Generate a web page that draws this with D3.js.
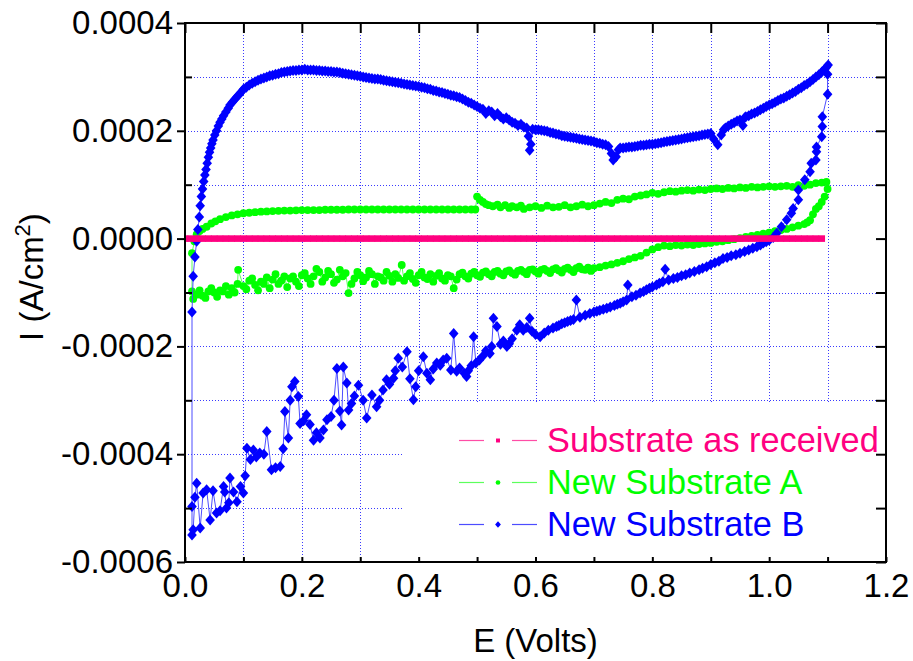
<!DOCTYPE html>
<html>
<head>
<meta charset="utf-8">
<script src="https://cdn.jsdelivr.net/npm/d3@7/dist/d3.min.js"></script>
<style>
  body { margin: 0; background: #fff; }
  svg { display: block; }
  text { font-family: "Liberation Sans", Arial, sans-serif; }
</style>
</head>
<body>
<svg id="chart" width="913" height="661"></svg>
<script>
// ---- data: potential E (V) and current density I (µA/cm²) ----
const seriesNames = ["Substrate as received", "New Substrate A", "New Substrate B"];
const seriesColors = ["#ff0080", "#00ff00", "#0000ff"];
const lineColors = ["#ff4da6", "#5cff5c", "#4d4dff"];

const xTickValues = [0, 0.2, 0.4, 0.6, 0.8, 1.0, 1.2];
const xMinorValues = [0.1, 0.3, 0.5, 0.7, 0.9, 1.1];
const yTickValues = [-0.0006, -0.0004, -0.0002, 0, 0.0002, 0.0004];
const yMinorValues = [-0.0005, -0.0003, -0.0001, 0.0001, 0.0003];

// Substrate as received: flat at zero over the sweep
const receivedE = [0.00,0.01,0.02,0.03,0.04,0.05,0.06,0.07,0.08,0.09,0.10,0.11,0.12,0.13,0.14,0.15,0.16,0.17,0.18,0.19,
  0.20,0.21,0.22,0.23,0.24,0.25,0.26,0.27,0.28,0.29,0.30,0.31,0.32,0.33,0.34,0.35,0.36,0.37,0.38,0.39,
  0.40,0.41,0.42,0.43,0.44,0.45,0.46,0.47,0.48,0.49,0.50,0.51,0.52,0.53,0.54,0.55,0.56,0.57,0.58,0.59,
  0.60,0.61,0.62,0.63,0.64,0.65,0.66,0.67,0.68,0.69,0.70,0.71,0.72,0.73,0.74,0.75,0.76,0.77,0.78,0.79,
  0.80,0.81,0.82,0.83,0.84,0.85,0.86,0.87,0.88,0.89,0.90,0.91,0.92,0.93,0.94,0.95,0.96,0.97,0.98,0.99,
  1.00,1.01,1.02,1.03,1.04,1.05,1.06,1.07,1.08,1.09];
const receivedI = [0,0,0,0,0,0,0,0,0,0,0,0,0,0,0,0,0,0,0,0,
  0,0,0,0,0,0,0,0,0,0,0,0,0,0,0,0,0,0,0,0,
  0,0,0,0,0,0,0,0,0,0,0,0,0,0,0,0,0,0,0,0,
  0,0,0,0,0,0,0,0,0,0,0,0,0,0,0,0,0,0,0,0,
  0,0,0,0,0,0,0,0,0,0,0,0,0,0,0,0,0,0,0,0,
  0,0,0,0,0,0,0,0,0,0];

// New Substrate A: forward sweep then return sweep, [E, I]
const substrateA = [
  [0.012,-98],[0.012,-27],[0.016,-5],[0.02,8],[0.025,14],[0.03,18],[0.037,22],[0.045,28],[0.052,32],[0.06,36],
  [0.07,40],[0.08,43],[0.09,45],[0.10,47],[0.11,48],[0.12,49],[0.13,50],[0.14,50.5],[0.15,51],[0.16,51.5],
  [0.17,52],[0.18,52],[0.19,52.5],[0.20,53],[0.21,53],[0.22,53],[0.23,53],[0.24,53.5],[0.25,53.5],[0.26,53.5],
  [0.27,53.5],[0.28,54],[0.29,54],[0.30,54],[0.31,54],[0.32,54],[0.33,54],[0.34,54],[0.35,54],[0.36,54],
  [0.37,54],[0.38,54],[0.39,54],[0.40,54],[0.41,54],[0.42,54],[0.43,54],[0.44,54],[0.45,54],[0.46,54],
  [0.47,54],[0.48,54],[0.49,54],[0.497,54],
  [0.50,78],[0.505,72],[0.51,68],[0.515,64],[0.52,62],[0.527,60],[0.535,63],[0.54,58],[0.548,62],[0.555,57],
  [0.56,60],[0.568,58],[0.575,61],[0.58,55],[0.59,58],[0.60,60],[0.61,57],[0.62,61],[0.63,58],[0.64,59],
  [0.65,62],[0.66,58],[0.67,60],[0.68,63],[0.69,60],[0.70,62],[0.71,65],[0.72,68],[0.73,66],[0.74,72],
  [0.75,74],[0.76,73],[0.77,78],[0.78,80],[0.79,82],[0.80,85],[0.81,83],[0.82,86],[0.83,88],[0.84,87],
  [0.85,89],[0.86,90],[0.87,89],[0.88,91],[0.89,90],[0.90,92],[0.91,93],[0.92,92],[0.93,94],[0.94,93],
  [0.95,95],[0.96,94],[0.97,96],[0.98,95],[0.99,96],[1.00,97],[1.01,96],[1.02,97],[1.03,98],[1.04,96],
  [1.05,99],[1.06,98],[1.07,100],[1.08,103],[1.09,104],[1.098,105],
  [1.10,92],[1.095,78],[1.09,68],[1.085,60],[1.08,55],[1.075,45],[1.07,34],[1.065,30],[1.06,27],[1.05,24],
  [1.04,21],[1.03,18],[1.02,16],[1.01,14],[1.00,11],[0.99,9],[0.98,7],[0.97,5],[0.96,3],[0.95,1],
  [0.94,-1],[0.93,-3],[0.92,-5],[0.91,-6],[0.90,-8],[0.89,-9],[0.88,-10],[0.87,-12],[0.86,-11],[0.85,-13],
  [0.84,-12],[0.83,-14],[0.82,-13],[0.81,-16],[0.80,-20],[0.79,-26],[0.78,-32],[0.77,-35],[0.76,-38],[0.75,-42],
  [0.74,-45],[0.73,-48],[0.72,-50],[0.71,-53],
  [0.700,-55],[0.695,-60],[0.690,-54],[0.685,-58],[0.680,-57],[0.675,-52],[0.670,-55],[0.665,-62],[0.660,-58],[0.655,-54],
  [0.650,-56],[0.645,-63],[0.640,-59],[0.635,-55],[0.630,-57],[0.625,-64],[0.620,-60],[0.615,-56],[0.610,-58],[0.605,-65],
  [0.600,-61],[0.595,-57],[0.590,-58],[0.585,-66],[0.580,-62],[0.575,-58],[0.570,-60],[0.565,-67],[0.560,-64],[0.555,-59],
  [0.550,-61],[0.545,-68],[0.540,-65],[0.535,-60],[0.530,-62],[0.525,-70],[0.520,-66],[0.515,-61],[0.510,-63],[0.505,-71],
  [0.500,-68],[0.495,-62],[0.490,-65],[0.485,-74],[0.480,-70],[0.475,-63],[0.470,-66],[0.465,-76],[0.460,-92],[0.455,-70],
  [0.450,-68],[0.445,-78],[0.440,-74],[0.435,-64],[0.430,-69],[0.425,-80],[0.420,-66],[0.415,-75],[0.410,-72],[0.405,-62],
  [0.400,-68],[0.395,-82],[0.390,-75],[0.385,-64],[0.380,-70],[0.375,-78],[0.371,-49],[0.365,-73],[0.360,-66],[0.355,-80],
  [0.350,-69],[0.345,-62],[0.340,-78],[0.335,-72],[0.330,-70],[0.325,-84],[0.320,-66],[0.315,-60],[0.310,-72],[0.305,-79],
  [0.300,-68],[0.295,-62],[0.290,-74],[0.285,-84],[0.280,-101],[0.275,-64],[0.270,-70],[0.265,-58],[0.260,-76],[0.255,-82],
  [0.250,-66],[0.245,-60],[0.240,-72],[0.235,-80],[0.230,-62],[0.225,-56],[0.220,-70],[0.215,-84],[0.210,-74],[0.205,-64],
  [0.200,-68],[0.195,-88],[0.190,-80],[0.185,-70],[0.180,-74],[0.175,-90],[0.170,-70],[0.165,-78],[0.160,-84],[0.155,-66],
  [0.150,-76],[0.145,-92],[0.140,-72],[0.135,-84],[0.130,-80],[0.125,-96],[0.120,-86],[0.115,-74],[0.110,-78],[0.105,-94],
  [0.100,-88],[0.091,-58],[0.090,-84],[0.085,-100],[0.080,-92],[0.075,-104],[0.070,-88],[0.065,-98],[0.060,-96],[0.055,-108],
  [0.050,-100],[0.045,-92],[0.040,-98],[0.035,-110],[0.030,-106],[0.025,-96],[0.020,-104],[0.014,-112]
];

// New Substrate B: forward sweep then return sweep, [E, I]
const substrateB = [
  [0.012,-550],[0.012,-497],[0.012,-136],[0.014,-70],[0.017,-34],[0.02,-5],[0.022,17],[0.0245,40],[0.026,61],[0.028,78],
  [0.03,92],[0.032,106],[0.034,118],[0.036,128],[0.038,140],[0.04,151],[0.042,160],[0.044,168],[0.046,176],[0.048,183],
  [0.051,192],[0.054,200],[0.057,209],[0.06,216],[0.063,222],[0.066,228],[0.07,235],[0.074,242],[0.077,248],[0.081,253],
  [0.085,258],[0.089,263],[0.093,268],[0.097,273],
  [0.100,277],[0.105,281],[0.110,285],[0.115,288],[0.120,291],[0.125,294],[0.130,296],[0.135,298],[0.140,300],[0.145,302],
  [0.150,303],[0.155,305],[0.160,306],[0.165,308],[0.170,309],[0.175,310],[0.180,311],[0.185,312],[0.190,312],[0.195,313],
  [0.200,313],[0.205,314],[0.210,313],[0.215,313],[0.220,313],[0.225,312],[0.230,312],[0.235,311],[0.240,311],[0.245,310],
  [0.250,310],[0.255,309],[0.260,309],[0.265,308],[0.270,307],[0.275,306],[0.280,305],[0.285,304],[0.290,303],[0.295,302],
  [0.300,301],[0.305,300],[0.310,299],[0.315,298],[0.320,297],[0.325,296],[0.330,296],[0.335,295],[0.340,294],[0.345,293],
  [0.350,292],[0.355,291],[0.360,290],[0.365,289],[0.370,288],[0.375,287],[0.380,286],[0.385,285],[0.390,284],[0.395,283],
  [0.400,282],[0.405,281],[0.410,280],[0.415,278],[0.420,277],[0.425,275],[0.430,274],[0.435,272],[0.440,271],[0.445,269],
  [0.450,268],[0.455,266],[0.460,265],[0.465,263],[0.470,262],[0.475,259],[0.480,256],[0.485,253],[0.490,251],[0.495,248],
  [0.500,245],[0.505,242],[0.510,240],[0.515,232],[0.520,237],[0.525,235],[0.530,228],[0.535,232],[0.540,226],[0.545,222],
  [0.550,224],[0.555,220],[0.560,216],[0.565,214],[0.570,210],[0.575,212],[0.580,207],[0.585,205],[0.588,190],[0.590,164],
  [0.592,175],[0.595,203],[0.600,202],[0.605,202],[0.610,201],[0.615,200],[0.620,199],[0.625,197],[0.630,196],[0.635,194],
  [0.640,193],[0.645,191],[0.650,190],[0.655,189],[0.660,188],[0.665,187],[0.670,186],[0.675,185],[0.680,184],[0.685,183],
  [0.690,182],[0.695,181],[0.700,180],[0.705,178],[0.710,177],[0.715,175],[0.720,174],[0.725,171],[0.730,158],[0.733,146],
  [0.738,152],[0.742,165],[0.745,168],[0.750,168],[0.755,169],[0.760,170],[0.765,170],[0.770,171],[0.775,172],[0.780,173],
  [0.785,173],[0.790,174],[0.795,175],[0.800,175],[0.805,176],[0.810,177],[0.815,178],[0.820,179],[0.825,180],[0.830,181],
  [0.835,182],[0.840,183],[0.845,184],[0.850,185],[0.855,186],[0.860,187],[0.865,188],[0.870,189],[0.875,190],[0.880,191],
  [0.885,192],[0.890,193],[0.895,194],[0.900,195],[0.905,185],[0.912,174],[0.918,192],[0.922,202],[0.925,205],[0.930,209],
  [0.935,212],[0.940,215],[0.945,218],[0.950,220],[0.955,210],[0.958,224],[0.960,226],[0.965,228],[0.970,231],[0.975,233],
  [0.980,236],[0.985,239],[0.990,242],[0.995,245],[1.000,248],[1.005,250],[1.010,253],[1.015,256],[1.020,259],[1.025,261],
  [1.030,264],[1.035,267],[1.040,270],[1.045,273],[1.050,277],[1.055,280],[1.060,284],[1.065,287],[1.070,291],[1.075,295],
  [1.080,300],[1.085,304],[1.090,309],[1.095,314],[1.098,318],[1.101,322],
  [1.10,305],[1.10,268],[1.091,226],[1.091,208],[1.09,189],[1.081,170],[1.081,161],[1.08,146],[1.072,140],[1.07,124],
  [1.061,109],[1.05,90],[1.05,72],[1.041,56],[1.038,47],[1.03,35],[1.021,22],[1.013,10],[1.007,2],[1.0,-3],
  [0.995,-6],[0.99,-8],[0.985,-12],[0.979,-15],[0.972,-18],[0.965,-21],[0.958,-24],[0.95,-27],[0.943,-30],[0.935,-32],
  [0.928,-35],[0.921,-37],[0.914,-42],[0.907,-45],[0.90,-48],[0.893,-52],[0.886,-55],[0.88,-58],[0.872,-61],[0.864,-64],
  [0.857,-67],[0.85,-69],[0.843,-72],[0.836,-74],[0.828,-77],[0.822,-57],[0.818,-80],[0.812,-83],[0.807,-86],[0.80,-90],
  [0.795,-92],[0.79,-95],[0.785,-98],[0.779,-101],[0.772,-105],[0.765,-108],[0.758,-86],[0.756,-114],[0.75,-117],[0.745,-120],
  [0.74,-122],[0.735,-124],[0.728,-127],[0.722,-129],[0.716,-131],[0.71,-133],[0.705,-135],[0.70,-136],[0.693,-139],[0.685,-142],
  [0.676,-146],[0.67,-114],[0.665,-150],[0.66,-152],[0.655,-154],[0.65,-156],[0.645,-158],[0.64,-161],[0.636,-163],[0.63,-166],
  [0.622,-170],[0.615,-175],[0.608,-182],[0.60,-178],[0.594,-172],[0.59,-148],[0.585,-165],[0.579,-170],[0.573,-160],[0.568,-170],
  [0.56,-186],[0.555,-195],[0.551,-200],[0.545,-190],[0.54,-196],[0.534,-163],[0.528,-148],[0.525,-200],[0.522,-213],[0.515,-208],
  [0.51,-218],[0.504,-225],[0.498,-231],[0.494,-182],[0.49,-236],[0.485,-245],[0.482,-256],[0.478,-250],[0.47,-240],[0.465,-246],
  [0.46,-176],[0.455,-244],[0.448,-222],[0.442,-225],[0.437,-235],[0.431,-231],[0.425,-242],[0.42,-262],[0.414,-250],[0.408,-219],
  [0.40,-245],[0.395,-275],[0.391,-299],[0.385,-260],[0.38,-210],[0.372,-238],[0.365,-222],[0.36,-245],[0.357,-259],[0.35,-270],
  [0.345,-262],[0.339,-281],[0.333,-300],[0.328,-312],[0.32,-290],[0.311,-333],[0.305,-300],[0.297,-272],[0.29,-292],[0.285,-306],
  [0.28,-318],[0.277,-268],[0.271,-238],[0.268,-346],[0.265,-320],[0.26,-241],[0.255,-300],[0.25,-330],[0.243,-336],[0.237,-355],
  [0.231,-370],[0.225,-360],[0.22,-374],[0.214,-345],[0.208,-327],[0.203,-338],[0.197,-343],[0.194,-293],[0.188,-265],[0.183,-275],
  [0.18,-300],[0.177,-370],[0.171,-321],[0.168,-390],[0.163,-423],[0.155,-425],[0.148,-429],[0.14,-358],[0.135,-400],[0.128,-398],
  [0.122,-405],[0.117,-392],[0.112,-410],[0.106,-389],[0.103,-440],[0.10,-472],[0.095,-460],[0.089,-488],[0.083,-470],[0.077,-444],
  [0.075,-490],[0.071,-500],[0.068,-470],[0.066,-460],[0.06,-505],[0.054,-509],[0.048,-468],[0.043,-522],[0.037,-466],[0.031,-472],
  [0.026,-537],[0.02,-454],[0.017,-480],[0.014,-540]
];

// ---- layout ----
const svg = d3.select("#chart");
const plot = { left: 185, right: 886, top: 23, bottom: 562 };
const x = d3.scaleLinear().domain([0, 1.2]).range([plot.left, plot.right]);
const y = d3.scaleLinear().domain([-0.0006, 0.0004]).range([plot.bottom, plot.top]);
const uA = v => v * 1e-6;

svg.append("defs").append("clipPath").attr("id", "plotClip")
  .append("rect").attr("x", plot.left).attr("y", plot.top)
  .attr("width", plot.right - plot.left).attr("height", plot.bottom - plot.top);

// dotted grid
const grid = svg.append("g").attr("stroke", "#3a3aff").attr("stroke-width", 1)
  .attr("stroke-dasharray", "1,2").attr("fill", "none");
const gridX = xMinorValues.concat([0.2, 0.4, 0.6, 0.8, 1.0]).sort((a, b) => a - b);
const gridY = yMinorValues.concat([-0.0004, -0.0002, 0.0002]).sort((a, b) => a - b);
grid.selectAll("line.gx").data(gridX).join("line").attr("class", "gx")
  .attr("x1", d => Math.round(x(d)) + 0.5).attr("x2", d => Math.round(x(d)) + 0.5)
  .attr("y1", plot.top).attr("y2", plot.bottom);
grid.selectAll("line.gy").data(gridY).join("line").attr("class", "gy")
  .attr("y1", d => Math.round(y(d)) + 0.5).attr("y2", d => Math.round(y(d)) + 0.5)
  .attr("x1", plot.left).attr("x2", plot.right);

// legend panel hides the grid underneath it
const legendBox = { x: 403, y: 402, w: plot.right - 403, h: plot.bottom - 402 };
svg.append("rect").attr("x", legendBox.x).attr("y", legendBox.y)
  .attr("width", legendBox.w).attr("height", legendBox.h).attr("fill", "#fff");

// marker shapes
const diamond = "M0,-5.5L4.8,0L0,5.5L-4.8,0Z";
function drawMarker(sel, kind, color, scale) {
  if (kind === 0) {
    const s = 6.6 * scale;
    sel.append("rect").attr("x", -s / 2).attr("y", -s / 2).attr("width", s).attr("height", s).attr("fill", color);
  } else if (kind === 1) {
    sel.append("circle").attr("r", 3.9 * scale).attr("fill", color);
  } else {
    sel.append("path").attr("d", diamond).attr("transform", `scale(${scale})`).attr("fill", color);
  }
}

const dataLayer = svg.append("g").attr("clip-path", "url(#plotClip)");
const line = d3.line().x(d => x(d[0])).y(d => y(uA(d[1])));

const receivedPts = receivedE.map((e, i) => [e, receivedI[i]]);
const seriesPts = [receivedPts, substrateA, substrateB];

// draw order: A, B, then the as-received trace on top
[1, 2, 0].forEach(k => {
  const pts = seriesPts[k];
  const g = dataLayer.append("g");
  g.append("path").datum(pts).attr("d", line).attr("fill", "none")
    .attr("stroke", lineColors[k]).attr("stroke-width", 1);
  g.selectAll("g.m").data(pts).join("g").attr("class", "m")
    .attr("transform", d => `translate(${x(d[0])},${y(uA(d[1]))})`)
    .each(function () { drawMarker(d3.select(this), k, seriesColors[k], 1); });
});

// ---- axes ----
const fmtY = d => d.toFixed(4);
const fmtX = d => d.toFixed(1);
const fontSize = 33;

function styleAxis(g) {
  g.select(".domain").remove();
  g.selectAll(".tick line").attr("stroke", "#000").attr("stroke-width", 2);
  g.selectAll("text").attr("font-size", fontSize).attr("fill", "#000")
    .attr("font-family", '"Liberation Sans", Arial, sans-serif');
}

// left: labelled ticks outward, intermediate ticks inward
svg.append("g").attr("transform", `translate(${plot.left},0)`)
  .call(d3.axisLeft(y).tickValues(yTickValues).tickFormat(fmtY).tickSize(8).tickPadding(4))
  .call(styleAxis);
svg.append("g").attr("transform", `translate(${plot.left},0)`)
  .call(d3.axisLeft(y).tickValues(yMinorValues).tickFormat("").tickSize(-7))
  .call(styleAxis);

// bottom: inward ticks
svg.append("g").attr("transform", `translate(0,${plot.bottom})`)
  .call(d3.axisBottom(x).tickValues(xTickValues).tickFormat(fmtX).tickSizeInner(-5).tickSizeOuter(0).tickPadding(12))
  .call(styleAxis);
svg.append("g").attr("transform", `translate(0,${plot.bottom})`)
  .call(d3.axisBottom(x).tickValues(xMinorValues).tickFormat("").tickSize(-5))
  .call(styleAxis);

// top and right: inward ticks, no labels
svg.append("g").attr("transform", `translate(0,${plot.top})`)
  .call(d3.axisTop(x).tickValues(xTickValues.concat(xMinorValues)).tickFormat("").tickSize(-10))
  .call(styleAxis);
svg.append("g").attr("transform", `translate(${plot.right},0)`)
  .call(d3.axisRight(y).tickValues(yTickValues.concat(yMinorValues)).tickFormat("").tickSize(-10))
  .call(styleAxis);

// frame
svg.append("rect").attr("x", plot.left).attr("y", plot.top)
  .attr("width", plot.right - plot.left).attr("height", plot.bottom - plot.top)
  .attr("fill", "none").attr("stroke", "#000").attr("stroke-width", 2);

// axis titles
svg.append("text").attr("x", (plot.left + plot.right) / 2).attr("y", 652)
  .attr("text-anchor", "middle").attr("font-size", fontSize).text("E (Volts)");

const yTitle = svg.append("text").attr("transform", "translate(43,277) rotate(-90)")
  .attr("text-anchor", "middle").attr("font-size", fontSize);
yTitle.append("tspan").text("I (A/cm");
yTitle.append("tspan").attr("font-size", 22).attr("dy", -13).text("2");
yTitle.append("tspan").attr("dy", 13).text(")");

// ---- legend ----
const legend = svg.append("g");
const legendRows = [452, 494, 536];
seriesNames.forEach((name, k) => {
  const by = legendRows[k];
  const sy = by - 11.5;
  const row = legend.append("g");
  row.append("line").attr("x1", 459).attr("x2", 484).attr("y1", sy).attr("y2", sy)
    .attr("stroke", lineColors[k]).attr("stroke-width", 1.2);
  row.append("line").attr("x1", 512).attr("x2", 537).attr("y1", sy).attr("y2", sy)
    .attr("stroke", lineColors[k]).attr("stroke-width", 1.2);
  const m = row.append("g").attr("transform", `translate(498,${sy})`);
  drawMarker(m, k, seriesColors[k], 0.6);
  row.append("text").attr("x", 547).attr("y", by).attr("font-size", 34.3)
    .attr("fill", seriesColors[k]).text(name);
});
</script>
</body>
</html>
